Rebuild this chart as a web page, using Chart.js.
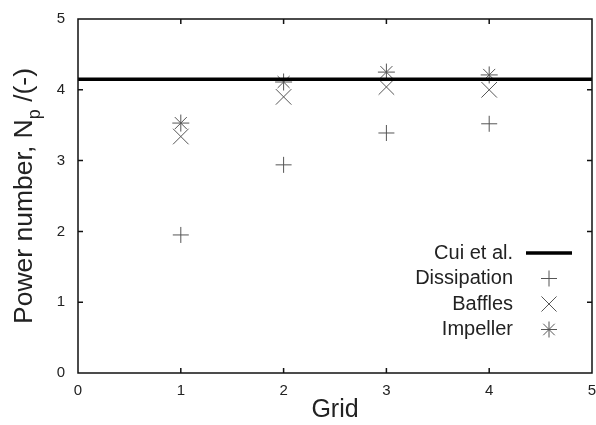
<!DOCTYPE html>
<html>
<head>
<meta charset="utf-8">
<script src="https://cdn.jsdelivr.net/npm/chart.js@4/dist/chart.umd.min.js"></script>
<style>
  html, body { margin: 0; padding: 0; background: #fff; overflow: hidden; }
  #wrap { width: 596px; height: 425px; overflow: hidden; }
</style>
</head>
<body>
<div id="wrap"><canvas id="chart" width="596" height="425"></canvas></div>
<script>
const grids = [1, 2, 3, 4];
const dissipation = [1.95, 2.94, 3.39, 3.52];
const baffles = [3.34, 3.90, 4.04, 4.00];
const impeller = [3.53, 4.11, 4.25, 4.21];
const cuiValue = 4.15;
const xRange = [0, 5];
const yRange = [0, 5];
const xTicks = [0, 1, 2, 3, 4, 5];
const yTicks = [0, 1, 2, 3, 4, 5];

const legendItems = [
  { label: 'Cui et al.', style: 'line' },
  { label: 'Dissipation', style: 'cross' },
  { label: 'Baffles', style: 'crossRot' },
  { label: 'Impeller', style: 'star' },
];

const markColor = '#555';
const textColor = '#222';
const fam = '"Liberation Sans", Arial, sans-serif';

function pts(vals) {
  return grids.map((g, i) => ({ x: g, y: vals[i] }));
}

function drawMarker(ctx, style, x, y, r) {
  ctx.beginPath();
  if (style == 'cross' || style == 'star') {
    ctx.moveTo(x - r, y); ctx.lineTo(x + r, y);
    ctx.moveTo(x, y - r); ctx.lineTo(x, y + r);
  }
  if (style == 'crossRot' || style == 'star') {
    const d = r * 0.72;
    ctx.moveTo(x - d, y - d); ctx.lineTo(x + d, y + d);
    ctx.moveTo(x - d, y + d); ctx.lineTo(x + d, y - d);
  }
  ctx.stroke();
}

// frame, inward ticks, y title and legend
const decor = {
  id: 'decor',
  afterDraw(chart) {
    const ctx = chart.ctx;
    const a = chart.chartArea;
    const xs = chart.scales.x, ys = chart.scales.y;
    ctx.save();
    ctx.strokeStyle = '#111';
    ctx.lineWidth = 1.5;
    ctx.strokeRect(a.left, a.top, a.right - a.left, a.bottom - a.top);
    ctx.beginPath();
    xTicks.slice(1, -1).forEach((t) => {
      const px = xs.getPixelForValue(t);
      ctx.moveTo(px, a.bottom); ctx.lineTo(px, a.bottom - 5);
      ctx.moveTo(px, a.top); ctx.lineTo(px, a.top + 5);
    });
    yTicks.slice(1, -1).forEach((t) => {
      const py = ys.getPixelForValue(t);
      ctx.moveTo(a.left, py); ctx.lineTo(a.left + 5, py);
      ctx.moveTo(a.right, py); ctx.lineTo(a.right - 5, py);
    });
    ctx.stroke();

    // y title with subscript
    ctx.fillStyle = textColor;
    ctx.translate(32, (a.top + a.bottom) / 2);
    ctx.rotate(-Math.PI / 2);
    const big = '26.5px ' + fam;
    const small = '18px ' + fam;
    const p1 = 'Power number, N', p2 = 'p', p3 = ' /(-)';
    ctx.font = big;
    const w1 = ctx.measureText(p1).width, w3 = ctx.measureText(p3).width;
    ctx.font = small;
    const w2 = ctx.measureText(p2).width;
    let x0 = -(w1 + w2 + w3) / 2;
    ctx.textBaseline = 'alphabetic';
    ctx.textAlign = 'left';
    ctx.font = big; ctx.fillText(p1, x0, 0);
    ctx.font = small; ctx.fillText(p2, x0 + w1, 8);
    ctx.font = big; ctx.fillText(p3, x0 + w1 + w2, 0);
    ctx.setTransform(1, 0, 0, 1, 0, 0);

    // legend
    ctx.font = '20px ' + fam;
    ctx.textAlign = 'right';
    ctx.textBaseline = 'middle';
    const textRight = a.right - 79;
    const markX = a.right - 43;
    legendItems.forEach((it, i) => {
      const y = a.bottom - 120 + i * 25.5;
      ctx.fillStyle = textColor;
      ctx.fillText(it.label, textRight, y);
      if (it.style == 'line') {
        ctx.strokeStyle = '#000';
        ctx.lineWidth = 3.5;
        ctx.beginPath(); ctx.moveTo(markX - 23, y); ctx.lineTo(markX + 23, y); ctx.stroke();
      } else {
        ctx.strokeStyle = markColor;
        ctx.lineWidth = 1;
        drawMarker(ctx, it.style, markX, y, it.style == 'crossRot' ? 10.5 : 8);
      }
    });
    ctx.restore();
  }
};

const tickFont = { family: fam, size: 15 };

new Chart(document.getElementById('chart'), {
  type: 'scatter',
  data: {
    datasets: [
      {
        label: 'Cui et al.',
        type: 'line',
        data: xRange.map((x) => ({ x: x, y: cuiValue })),
        borderColor: '#000',
        borderWidth: 3.5,
        pointRadius: 0,
      },
      {
        label: 'Dissipation',
        data: pts(dissipation),
        pointStyle: 'cross',
        pointRadius: 8,
        borderColor: markColor,
        borderWidth: 1,
      },
      {
        label: 'Baffles',
        data: pts(baffles),
        pointStyle: 'crossRot',
        pointRadius: 11,
        borderColor: markColor,
        borderWidth: 1,
      },
      {
        label: 'Impeller',
        data: pts(impeller),
        pointStyle: 'star',
        pointRadius: 8.5,
        borderColor: markColor,
        borderWidth: 1,
      },
    ],
  },
  options: {
    responsive: false,
    animation: false,
    layout: { autoPadding: false, padding: { top: 19, right: 4, left: 0, bottom: 0 } },
    plugins: { legend: { display: false }, tooltip: { enabled: false } },
    scales: {
      x: {
        type: 'linear',
        min: xRange[0],
        max: xRange[1],
        afterBuildTicks: (s) => { s.ticks = xTicks.map((v) => ({ value: v })); },
        afterFit: (s) => { s.height = 52; s.paddingLeft = 0; s.paddingRight = 0; },
        grid: { display: false, drawTicks: false, tickLength: 0 },
        border: { display: false },
        ticks: { font: tickFont, color: textColor, padding: 9, maxRotation: 0 },
        title: {
          display: true,
          text: 'Grid',
          font: { family: fam, size: 25 },
          color: textColor,
          padding: { top: 0, bottom: 0 },
        },
      },
      y: {
        min: yRange[0],
        max: yRange[1],
        afterBuildTicks: (s) => { s.ticks = yTicks.map((v) => ({ value: v })); },
        afterFit: (s) => { s.width = 78; s.paddingTop = 0; s.paddingBottom = 0; },
        grid: { display: false, drawTicks: false, tickLength: 0 },
        border: { display: false },
        ticks: { font: tickFont, color: textColor, padding: 13 },
      },
    },
  },
  plugins: [decor],
});
</script>
</body>
</html>
